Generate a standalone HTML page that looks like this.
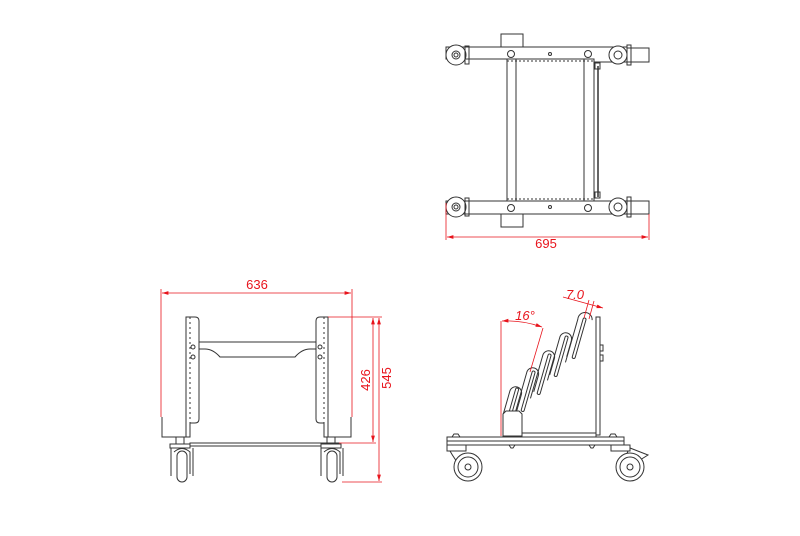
<!DOCTYPE html>
<html><head><meta charset="utf-8"><style>
html,body{margin:0;padding:0;background:#fff}
svg{display:block}
text{font-family:"Liberation Sans",sans-serif;fill:#e8141c;font-size:13px}
</style></head><body>
<svg width="800" height="536" viewBox="0 0 800 536" xmlns="http://www.w3.org/2000/svg">
<defs>
<marker id="ar" viewBox="0 0 10 6" refX="10" refY="3" markerWidth="8" markerHeight="5" orient="auto-start-reverse"><path d="M0,0L10,3L0,6z" fill="#e8141c"/></marker>
</defs>
<g fill="none" stroke="#333" stroke-width="1">
<!-- TOP VIEW -->
<rect x="501" y="34" width="22" height="13" fill="#fff"/>
<rect x="501" y="213" width="22" height="14" fill="#fff"/>
<path d="M446,47H627V62H594V59H446Z" fill="#fff"/>
<path d="M446,201H627V214H446Z" fill="#fff"/>
<rect x="627" y="48" width="22" height="14" fill="#fff"/>
<rect x="627" y="201" width="22" height="13" fill="#fff"/>
<rect x="507" y="59" width="87" height="142"/>
<line x1="516" y1="59" x2="516" y2="201"/>
<line x1="584" y1="59" x2="584" y2="201"/>
<line x1="598" y1="66" x2="598" y2="197" stroke-width="1.5"/>
<rect x="595" y="63" width="5" height="6"/><rect x="595" y="192" width="5" height="6"/>
<line x1="507" y1="61" x2="594" y2="61" stroke-dasharray="2 2"/>
<line x1="507" y1="199" x2="594" y2="199" stroke-dasharray="2 2"/>
<circle cx="456" cy="55" r="10" fill="#fff"/><circle cx="456" cy="55" r="4"/><circle cx="456" cy="55" r="2"/>
<circle cx="618" cy="55" r="9" fill="#fff"/><circle cx="618" cy="55" r="4"/>
<circle cx="456" cy="207" r="10" fill="#fff"/><circle cx="456" cy="207" r="4"/><circle cx="456" cy="207" r="2"/>
<circle cx="618" cy="207" r="9" fill="#fff"/><circle cx="618" cy="207" r="4"/>
<rect x="465" y="46" width="4" height="18"/><rect x="627" y="45" width="4" height="20"/>
<rect x="465" y="198" width="4" height="18"/><rect x="627" y="197" width="4" height="20"/>
<circle cx="511" cy="54" r="3.5"/><circle cx="588" cy="54" r="3.5"/>
<circle cx="511" cy="208" r="3.5"/><circle cx="588" cy="208" r="3.5"/>
<circle cx="550" cy="54" r="1.5"/><circle cx="550" cy="207" r="1.5"/>

<!-- FRONT VIEW -->
<path d="M186,317H195Q199,317 199,321V419Q199,423 195,423H190V437H186Z" fill="#fff"/>
<line x1="190" y1="317" x2="190" y2="423" stroke-dasharray="2 3"/>
<path d="M328,317H320Q316,317 316,321V419Q316,423 320,423H324V437H328Z" fill="#fff"/>
<line x1="324" y1="317" x2="324" y2="423" stroke-dasharray="2 3"/>
<path d="M199,342H316M199,349H205Q213,349 220,357H295Q302,349 310,349H316"/>
<circle cx="193" cy="347" r="2"/><circle cx="193" cy="357" r="2"/>
<circle cx="320" cy="347" r="2"/><circle cx="320" cy="357" r="2"/>
<path d="M162,417V437H186M351,417V437H328"/>
<rect x="190" y="443" width="149" height="3"/>
<rect x="170" y="444" width="20" height="4" fill="#fff"/><rect x="176" y="437" width="8" height="7"/>
<path d="M171,448V476M193,448V476M174,452Q182,445 190,452V474"/>
<rect x="177" y="451" width="10" height="31" rx="5" fill="#fff"/>
<rect x="321" y="444" width="20" height="4" fill="#fff"/><rect x="327" y="437" width="8" height="7"/>
<path d="M321,448V476M343,448V476M324,452Q332,445 340,452V474"/>
<rect x="327" y="451" width="10" height="31" rx="5" fill="#fff"/>

<!-- SIDE VIEW -->
<rect x="447" y="437" width="177" height="8" fill="#fff"/>
<line x1="447" y1="441" x2="624" y2="441"/>
<rect x="522" y="433" width="74" height="4"/>
<path d="M596,317H600V435H596Z" fill="#fff"/>
<rect x="600" y="345" width="3" height="6"/><rect x="600" y="355" width="3" height="6"/>
<g transform="translate(517,388) rotate(16)"><path d="M-6,30V5A6,6 0 0 1 6,5V30"/><rect x="-1" y="0" width="3" height="38" rx="1.5"/></g>
<g transform="translate(534,369) rotate(16)"><path d="M-6,50V5A6,6 0 0 1 6,5V22"/><rect x="-1" y="2" width="3" height="42" rx="1.5"/></g>
<g transform="translate(550,352) rotate(16)"><path d="M-6,50V5A6,6 0 0 1 6,5V22"/><rect x="-1" y="2" width="3" height="42" rx="1.5"/></g>
<g transform="translate(567,334) rotate(16)"><path d="M-6,50V5A6,6 0 0 1 6,5V22"/><rect x="-1" y="2" width="3" height="42" rx="1.5"/></g>
<g transform="translate(585,316) rotate(16)"><path d="M-6,50V5A6,6 0 0 1 8,2"/><rect x="-1" y="2" width="3" height="42" rx="1.5"/></g>
<path d="M503,436V414L506,411H519L522,414V436Z" fill="#fff"/>
<rect x="447" y="445" width="19" height="6" fill="#fff"/><rect x="611" y="445" width="19" height="6" fill="#fff"/>
<path d="M450,451Q455,460 462,468M628,451Q624,460 626,468M630,448L648,455L640,460"/>
<circle cx="468" cy="467" r="14" fill="#fff"/><circle cx="468" cy="467" r="10"/><circle cx="468" cy="467" r="3"/>
<circle cx="630" cy="467" r="14" fill="#fff"/><circle cx="630" cy="467" r="10"/><circle cx="630" cy="467" r="3"/>
<path d="M452,437l2,-3h4l2,3M609,437l2,-3h4l2,3M509,445l2,3h2l2,-3M589,445l2,3h2l2,-3"/>
</g>

<!-- DIMENSIONS -->
<g stroke="#e8141c" stroke-width="0.8" fill="none">
<line x1="446" y1="203" x2="446" y2="240"/><line x1="649" y1="214" x2="649" y2="240"/>
<line x1="447" y1="237" x2="648" y2="237" marker-start="url(#ar)" marker-end="url(#ar)"/>
<line x1="161" y1="289" x2="161" y2="417"/><line x1="352" y1="289" x2="352" y2="417"/>
<line x1="162" y1="293" x2="351" y2="293" marker-start="url(#ar)" marker-end="url(#ar)"/>
<line x1="328" y1="317" x2="382" y2="317"/><line x1="339" y1="443" x2="376" y2="443"/><line x1="342" y1="482" x2="382" y2="482"/>
<line x1="373" y1="318" x2="373" y2="442" marker-start="url(#ar)" marker-end="url(#ar)"/>
<line x1="379" y1="318" x2="379" y2="481" marker-start="url(#ar)" marker-end="url(#ar)"/>
<line x1="501" y1="321" x2="501" y2="436"/>
<line x1="543" y1="328" x2="530" y2="372"/>
<path d="M502,321Q522,320 542,327" marker-start="url(#ar)" marker-end="url(#ar)"/>
<line x1="563" y1="297" x2="603" y2="308" marker-end="url(#ar)"/>
<line x1="589" y1="300" x2="584" y2="318"/><line x1="594" y1="301" x2="589" y2="319"/>
</g>
<text x="546" y="248" text-anchor="middle">695</text>
<text x="257" y="289" text-anchor="middle">636</text>
<text transform="translate(370,380) rotate(-90)" text-anchor="middle">426</text>
<text transform="translate(391,378) rotate(-90)" text-anchor="middle">545</text>
<text x="525" y="320" text-anchor="middle" font-style="italic">16°</text>
<text x="575" y="299" text-anchor="middle" font-style="italic">7.0</text>
</svg>
</body></html>
